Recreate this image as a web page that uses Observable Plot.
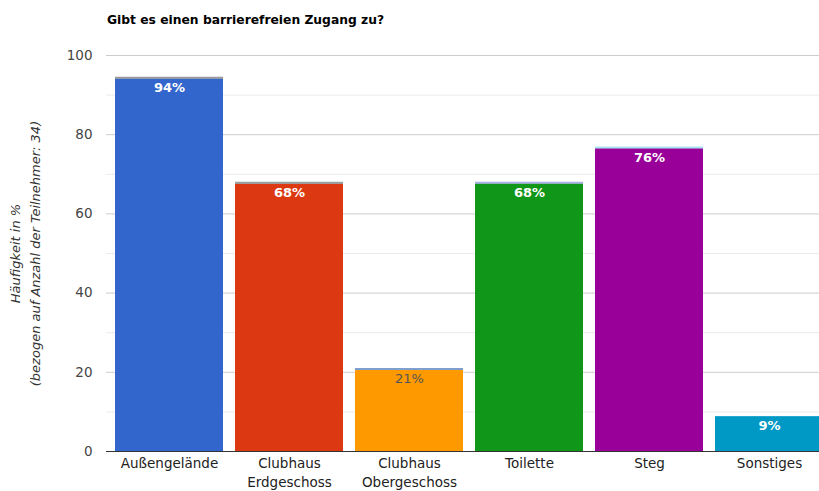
<!DOCTYPE html>
<html>
<head>
<meta charset="utf-8">
<script src="https://cdn.jsdelivr.net/npm/d3@7"></script>
<script src="https://cdn.jsdelivr.net/npm/@observablehq/plot@0.6"></script>
<style>
  html, body { margin: 0; padding: 0; background: #fff; }
  body { width: 819px; height: 491px; position: relative; overflow: hidden; font-family: "DejaVu Sans", sans-serif; }
  #title { position: absolute; left: 107px; top: 13px; font-size: 12.3px; font-weight: bold; color: #000; }
  #chart svg { overflow: hidden; }
</style>
</head>
<body>
<div id="chart"></div>
<div id="title">Gibt es einen barrierefreien Zugang zu?</div>
<script>
const categories = ["Außengelände", "Clubhaus\nErdgeschoss", "Clubhaus\nObergeschoss", "Toilette", "Steg", "Sonstiges"];
const values = [94.1, 67.6, 20.6, 67.6, 76.5, 8.8];
const labels = ["94%", "68%", "21%", "68%", "76%", "9%"];
const barColors = ["#3366cc", "#dc3912", "#ff9900", "#109618", "#990099", "#0099c6"];
const topColors = ["#999999", "#8fa3a8", "#7f9fcf", "#a9b0e6", "#a8e4ee", null];
const labelColors = ["#ffffff", "#ffffff", "#555555", "#ffffff", "#ffffff", "#ffffff"];
const labelWeights = ["bold", "bold", "normal", "bold", "bold", "bold"];
const majorTicks = [0, 20, 40, 60, 80, 100];
const minorTicks = [10, 30, 50, 70, 90];
const yTitle1 = "Häufigkeit in %";
const yTitle2 = "(bezogen auf Anzahl der Teilnehmer: 34)";

const data = categories.map((c, i) => ({
  cat: c, value: values[i], label: labels[i], fill: barColors[i],
  top: topColors[i], lc: labelColors[i], lw: labelWeights[i]
}));

const plot = Plot.plot({
  width: 819,
  height: 491,
  marginTop: 55,
  marginBottom: 40,
  marginLeft: 106,
  marginRight: 0,
  style: { fontFamily: "DejaVu Sans, sans-serif", fontSize: "13px", background: "#fff" },
  x: { domain: categories, range: [107, 830], paddingInner: 0.1, paddingOuter: 0.05, axis: null },
  y: { domain: [0, 100], axis: null },
  color: { type: "identity" },
  marks: [
    Plot.ruleY(minorTicks, { stroke: "#ebebeb", strokeWidth: 1 }),
    Plot.ruleY(majorTicks.filter(d => d > 0), { stroke: "#cccccc", strokeWidth: 1 }),
    Plot.barY(data, { x: "cat", y: "value", fill: "fill" }),
    Plot.tickY(data.filter(d => d.top), { x: "cat", y: "value", stroke: "top", strokeWidth: 2, dy: -1 }),
    Plot.ruleY([0], { stroke: "#333333", strokeWidth: 1 }),
    Plot.text(data.filter(d => d.lw === "bold"), { x: "cat", y: "value", text: "label", fill: "lc", fontWeight: "bold", lineAnchor: "top", dy: 4, fontSize: 13 }),
    Plot.text(data.filter(d => d.lw !== "bold"), { x: "cat", y: "value", text: "label", fill: "lc", lineAnchor: "top", dy: 4, fontSize: 13 }),
    Plot.text(majorTicks, { y: d => d, text: d => String(d), frameAnchor: "left", textAnchor: "end", dx: -14, fill: "#444444", fontSize: 13.5 }),
    Plot.text(categories, { x: d => d, text: d => d, frameAnchor: "bottom", lineAnchor: "top", dy: 3.5, lineHeight: 1.4, fill: "#222222", fontSize: 13.5 }),
    Plot.text([yTitle1], { frameAnchor: "left", text: d => d, rotate: -90, textAnchor: "middle", lineAnchor: "middle", dx: -91, fontStyle: "italic", fill: "#333333", fontSize: 13 }),
    Plot.text([yTitle2], { frameAnchor: "left", text: d => d, rotate: -90, textAnchor: "middle", lineAnchor: "middle", dx: -71, fontStyle: "italic", fill: "#333333", fontSize: 13 })
  ]
});
document.getElementById("chart").appendChild(plot);
</script>
</body>
</html>
